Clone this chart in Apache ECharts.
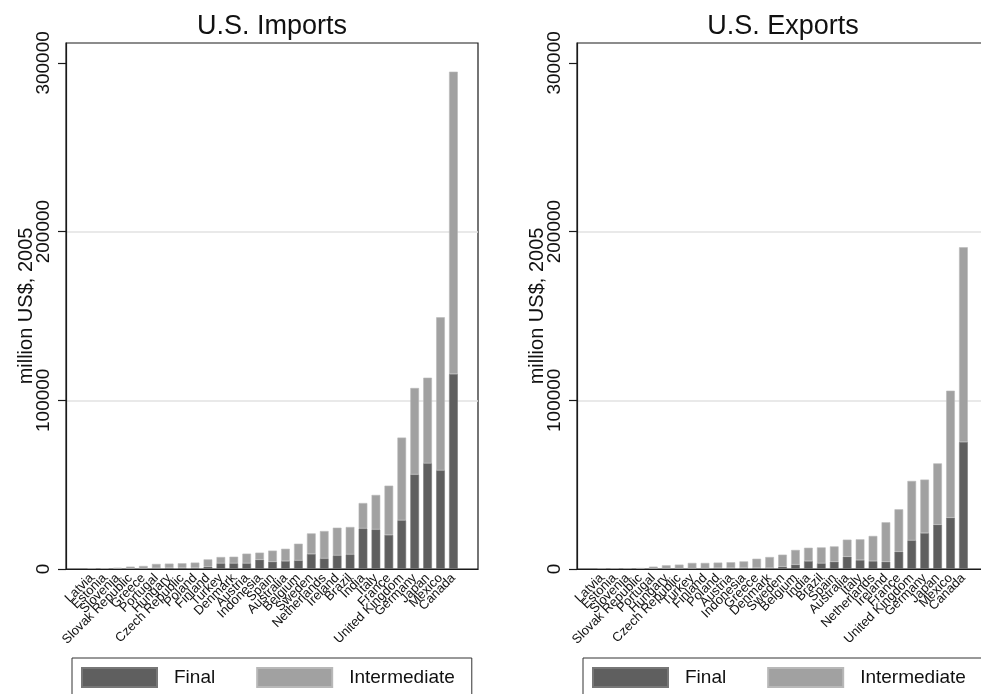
<!DOCTYPE html>
<html><head><meta charset="utf-8">
<script src="https://cdn.jsdelivr.net/npm/echarts@6/dist/echarts.min.js"></script>
<style>html,body{margin:0;padding:0;background:#fff}#c{width:981px;height:694px}</style>
</head><body><div id="c"></div>
<script>
// ---- data (million US$, 2005) ----
const importCountries = ['Latvia','Estonia','Slovenia','Slovak Republic','Greece','Portugal','Hungary','Czech Republic','Poland','Finland','Turkey','Denmark','Austria','Indonesia','Spain','Australia','Belgium','Sweden','Netherlands','Ireland','Brazil','India','Italy','France','United Kingdom','Germany','Japan','Mexico','Canada'];
const importFinal = [100,100,200,200,300,500,800,800,800,1400,3400,3400,3400,5500,4300,4700,5100,8900,6300,8100,8700,24100,23500,20200,28900,56100,62700,58500,115600];
const importIntermediate = [200,300,500,1200,1500,2500,2400,2600,3000,4300,3700,3900,5700,4200,6600,7300,9900,12200,16200,16400,16200,15000,20400,29200,49000,51200,50700,90700,179200];

const exportCountries = ['Latvia','Estonia','Slovenia','Slovak Republic','Portugal','Hungary','Czech Republic','Turkey','Finland','Poland','Austria','Indonesia','Greece','Denmark','Sweden','Belgium','India','Brazil','Spain','Australia','Italy','Netherlands','Ireland','France','United Kingdom','Germany','Japan','Mexico','Canada'];
const exportFinal = [50,50,50,100,200,300,300,300,400,600,600,800,800,600,1400,2600,4700,3400,4300,7300,5300,4700,4300,10300,17000,21300,26300,30400,75300];
const exportIntermediate = [150,150,150,500,1200,1900,2300,3300,3200,3200,3400,3700,5300,6500,7100,8700,7900,9400,9100,10100,12300,14900,23400,25100,35200,31700,36300,75300,115400];

const yTicks = [0, 100000, 200000, 300000];
const yMax = 311800;
const seriesNames = ['Final', 'Intermediate'];
const panelTitles = ['U.S. Imports', 'U.S. Exports'];
const yAxisTitle = 'million US$, 2005';

// ---- styling / layout ----
const FONT = '"Liberation Sans", Arial, Helvetica, sans-serif';
const DARK = '#5f5f5f', LIGHT = '#a1a1a1', INK = '#111';
const TOP = 43, BOTTOM = 125, FRAME_W = 412, DATA_W = 374.7;

const panels = [
  {frameLeft: 66, dataLeft: 85.2, legendLeft: 72, cats: importCountries, fin: importFinal, inter: importIntermediate},
  {frameLeft: 577, dataLeft: 595.2, legendLeft: 583, cats: exportCountries, fin: exportFinal, inter: exportIntermediate}
];

const grid = [], xAxis = [], yAxis = [], series = [], title = [], legend = [];
panels.forEach((p, i) => {
  const gF = i * 2, gD = i * 2 + 1;
  grid.push({left: p.frameLeft, top: TOP, width: FRAME_W, bottom: BOTTOM, outerBoundsMode: 'none', containLabel: false,
    show: true, borderColor: '#1a1a1a', borderWidth: 1.2, backgroundColor: '#fff'});
  grid.push({left: p.dataLeft, top: TOP, width: DATA_W, bottom: BOTTOM, outerBoundsMode: 'none', containLabel: false});
  xAxis.push({gridIndex: gF, type: 'value', min: 0, max: 1, z: 5,
    axisLine: {show: true, lineStyle: {color: '#1a1a1a', width: 1.2}},
    axisTick: {show: false}, axisLabel: {show: false}, splitLine: {show: false}});
  xAxis.push({gridIndex: gD, type: 'category', data: p.cats,
    axisLine: {show: false}, axisTick: {show: false},
    axisLabel: {interval: 0, rotate: 45, fontSize: 13, color: INK, margin: 7, fontFamily: FONT}});
  yAxis.push({gridIndex: gF, type: 'value', min: 0, max: yMax, interval: 100000,
    name: yAxisTitle, nameLocation: 'middle', nameGap: 30, nameMoveOverlap: false,
    nameTextStyle: {fontSize: 20, color: INK, fontFamily: FONT},
    axisLine: {show: true, lineStyle: {color: '#1a1a1a', width: 1.2}},
    axisTick: {show: true, length: 8, lineStyle: {color: '#1a1a1a', width: 1.2}, customValues: yTicks},
    axisLabel: {rotate: 90, fontSize: 19, margin: 13, color: INK, fontFamily: FONT, customValues: yTicks,
      formatter: v => String(Math.round(v))},
    splitLine: {show: true, showMinLine: false, showMaxLine: false, lineStyle: {color: '#e2e2e2', width: 1.5}}});
  yAxis.push({gridIndex: gD, type: 'value', min: 0, max: yMax, show: false, splitLine: {show: false}});
  series.push({name: seriesNames[0], type: 'bar', stack: 'p' + i, xAxisIndex: gD, yAxisIndex: gD,
    data: p.fin, barWidth: 8.7, itemStyle: {color: DARK, borderColor: '#777', borderWidth: 0.6}});
  series.push({name: seriesNames[1], type: 'bar', stack: 'p' + i, xAxisIndex: gD, yAxisIndex: gD,
    data: p.inter, barWidth: 8.7, itemStyle: {color: LIGHT, borderColor: '#b8b8b8', borderWidth: 0.6}});
  title.push({text: panelTitles[i], left: p.frameLeft + FRAME_W / 2, top: 13, textAlign: 'center', padding: 0,
    textStyle: {fontSize: 27, fontWeight: 'normal', color: INK, fontFamily: FONT}});
  legend.push({left: p.legendLeft, top: 658, width: 420, orient: 'horizontal', data: seriesNames, icon: 'rect',
    itemWidth: 75, itemHeight: 19, itemGap: 41, padding: [9, 17, 12, 9],
    borderColor: '#333', borderWidth: 1, selectedMode: false,
    textStyle: {fontSize: 19, color: INK, fontFamily: FONT, padding: [0, 0, 0, 12]}});
});

const chart = echarts.init(document.getElementById('c'));
chart.setOption({
  backgroundColor: '#fff',
  animation: false,
  title, legend, grid, xAxis, yAxis, series
});
</script>
</body></html>
